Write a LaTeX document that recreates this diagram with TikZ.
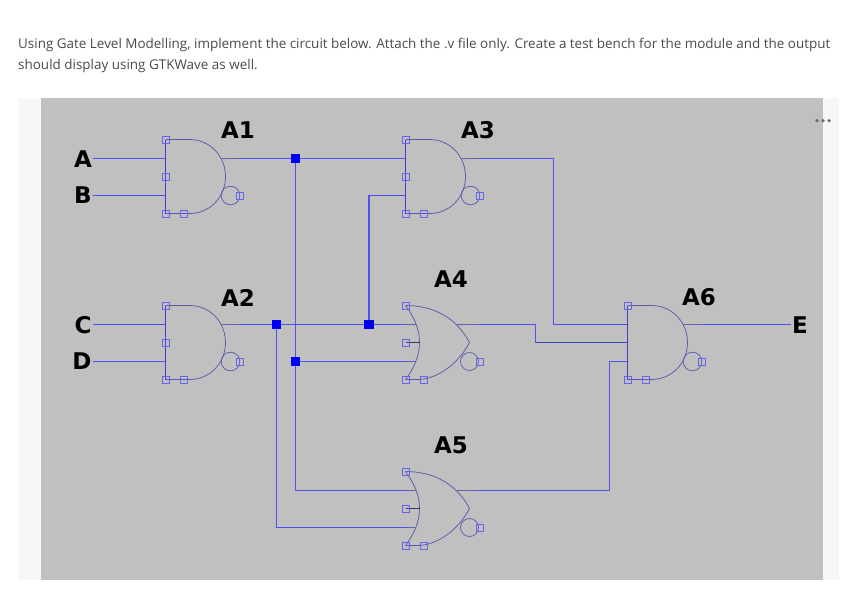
\documentclass[tikz,border=0pt]{standalone}
\usepackage{fontspec}
\setmainfont{Open Sans}
\newfontfamily\labelfont[Scale=1]{DejaVu Sans}
\definecolor{panel}{HTML}{C0C0C0}
\definecolor{strip}{HTML}{F7F7F7}
\definecolor{wirec}{HTML}{5252EE}
\definecolor{gatec}{HTML}{5A5AAE}
\definecolor{stubc}{HTML}{6262A8}
\definecolor{portc}{HTML}{6464F0}
\definecolor{junc}{HTML}{0000F8}
\definecolor{txtc}{HTML}{4A4A4A}
\pgfdeclarelayer{base}
\pgfdeclarelayer{wires}
\pgfsetlayers{base,wires,main}
\tikzset{
  wire/.style={draw=wirec,line width=1.05pt},
  thickwire/.style={draw=wirec!80!black,line width=1.4pt},
  gateline/.style={draw=gatec,line width=0.75pt},
  edgeline/.style={draw=wirec!80!black,line width=1pt},
  stubline/.style={draw=stubc,line width=1.05pt},
  portbox/.style={draw=portc,line width=0.8pt,fill=none,minimum size=7pt,inner sep=0pt,outer sep=0pt,shape=rectangle},
  junction/.style={fill=junc,draw=none,minimum size=9.5pt,inner sep=0pt,shape=rectangle},
  gatelabel/.style={font=\labelfont\bfseries\fontsize{23}{25}\selectfont,text=black,inner sep=0pt},
  titletext/.style={font=\fontsize{13.45}{20}\selectfont,text=txtc,inner sep=0pt,anchor=west},
  andgate/.pic={
    \path[edgeline] (0,0) -- (0,74);
    \path[gateline] (0,74) -- (24,74) .. controls (44,74) and (60,58) .. (60,37) .. controls (60,16) and (44,0) .. (24,0) -- (0,0);
    \path[stubline] (56,19) -- (72,19);
    \draw[gateline] (65,56) circle (9.3);
    \node[portbox] at (0,0) {};
    \node[portbox] at (0,74) {}; \node[portbox] at (18,74) {};
    \node[portbox] at (74.5,56) {};
    \coordinate (-in1) at (0,19); \coordinate (-in2) at (0,56);
    \coordinate (-mid) at (0,37); \coordinate (-out) at (56,19);
  },
  norgate/.pic={
    \path[gateline] (0,0) .. controls (9,12) and (14,24) .. (14,37) .. controls (14,50) and (9,62) .. (0,74);
    \path[gateline] (0,0) .. controls (30,0) and (52,14) .. (64,37) .. controls (52,60) and (30,74) .. (12,74) -- (0,74);
    \draw[gateline] (64,56) circle (9);
    \path[draw=gatec!60!black,line width=0.9pt] (0,37) -- (14,37);
    \path[stubline] (0,19) -- (10,19);
    \path[stubline] (0,56) -- (10,56);
    \path[stubline] (51,19) -- (70,19);
    \node[portbox] at (0,0) {}; \node[portbox] at (0,37) {};
    \node[portbox] at (0,74) {}; \node[portbox] at (18,74) {};
    \node[portbox] at (74,56) {};
    \coordinate (-in1) at (0,19); \coordinate (-in2) at (0,56);
    \coordinate (-out) at (51,19);
  }
}
\begin{document}
\begin{tikzpicture}[x=1pt,y=-1pt]
\useasboundingbox (0,0) rectangle (859,598);
\begin{pgfonlayer}{base}
\fill[white] (0,0) rectangle (859,598);
\fill[strip] (18,98) rectangle (839,580);
\fill[panel] (41,98) rectangle (823,580);
\end{pgfonlayer}
\node[titletext] (t1) at (18,45) {Using Gate Level Modelling, implement the circuit below. Attach the .v file only. Create a test bench for the module and the output};
\node[titletext] (t2) at (18,66) {should display using GTKWave as well.};
\fill[gray!85!black] (817,120.7) circle (1.8) (823,120.7) circle (1.8) (829,120.7) circle (1.8);
% signal names
\node[gatelabel] (A) at (83,159) {A};
\node[gatelabel] (B) at (83,195.5) {B};
\node[gatelabel] (C) at (83,325) {C};
\node[gatelabel] (D) at (82,361.5) {D};
\node[gatelabel] (E) at (800,325.5) {E};
\node[gatelabel] (la1) at (238,130.5) {A1};
\node[gatelabel] (la2) at (238,297.5) {A2};
\node[gatelabel] (la3) at (478,130.5) {A3};
\node[gatelabel] (la4) at (451,279.5) {A4};
\node[gatelabel] (la5) at (451,445.5) {A5};
\node[gatelabel] (la6) at (699,297.5) {A6};
% gates
\pic (g1) at (165.5,139.5) {andgate};
\pic (g2) at (165.5,305.5) {andgate};
\pic (g3) at (405.5,139.5) {andgate};
\pic (g6) at (627.5,305.5) {andgate};
\pic (g4) at (405.5,305.5) {norgate};
\pic (g5) at (405.5,471.5) {norgate};
\node[portbox] (g1m) at (g1-mid) {};
\node[portbox] (g2m) at (g2-mid) {};
\node[portbox] (g3m) at (g3-mid) {};
% junctions
\node[junction] (j1) at (295.5,158.5) {};
\node[junction] (j2) at (276.5,324.5) {};
\node[junction] (j3) at (369,324.5) {};
\node[junction] (j4) at (295.5,361.5) {};
% wires
\begin{pgfonlayer}{wires}
\path[wire] ([xshift=1pt]A.east|-g1-in1) -- (g1-in1);
\path[wire] ([xshift=1pt]B.east|-g1-in2) -- (g1-in2);
\path[wire] ([xshift=1pt]C.east|-g2-in1) -- (g2-in1);
\path[wire] ([xshift=1pt]D.east|-g2-in2) -- (g2-in2);
\path[wire] (g1-out) -- (j1.center) -- (g3-in1);
\path[wire] (g2-out) -- (j2.center) -- (j3.center) -- (g4-in1);
\path[wire] (j1.center) -- (j4.center) |- (g5-in1);
\path[wire] (j4.center) -- (g4-in2);
\path[wire] (j2.center) |- (g5-in2);
\path[wire] (j3.center) |- (g3-in2);
\coordinate (mx) at (553.5,324.5);
\path[wire] (g3-out) -| (mx) -- (g6-in1);
\coordinate (m2a) at (535.5,324.5);
\coordinate (m2b) at (535.5,342.5);
\path[wire] (g4-out) -- (m2a);
\path[wire] (m2a) -- (m2b);
\path[thickwire] (m2b) -- (g6-mid);
\coordinate (m3) at (609.5,361.5);
\path[wire] (g5-out) -| (m3) -- (g6-in2);
\path[wire] (g6-out) -- ([xshift=-1pt]E.west|-g6-out);
\end{pgfonlayer}
\end{tikzpicture}
\end{document}
